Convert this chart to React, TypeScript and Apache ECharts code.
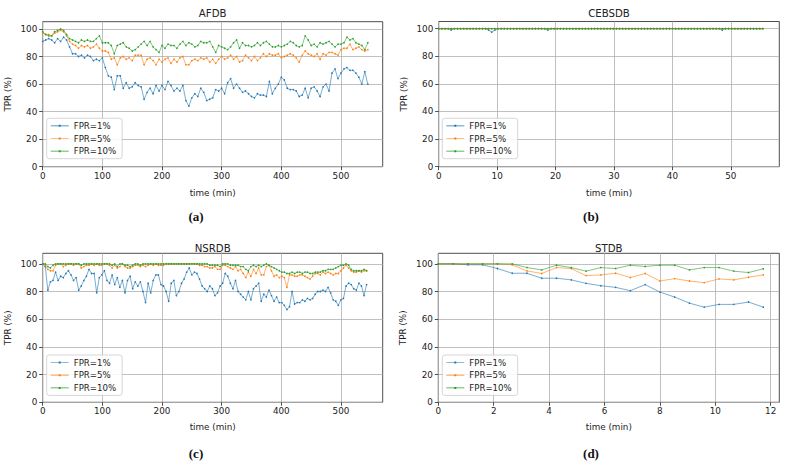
import React, { useEffect, useRef } from 'react';
import * as echarts from 'echarts';

const FONT = 'DejaVu Sans';
const LEGEND_NAMES = ['FPR=1%', 'FPR=5%', 'FPR=10%'];
const COLORS = ['#1f77b4', '#ff7f0e', '#2ca02c'];
const TITLES = ['AFDB', 'CEBSDB', 'NSRDB', 'STDB'];
const CAPTIONS = ['(a)', '(b)', '(c)', '(d)'];
const Y_TICKS = [0, 20, 40, 60, 80, 100];
const X_TICKS_MIN = [0, 100, 200, 300, 400, 500];
const X_TICKS_CEBS = [0, 10, 20, 30, 40, 50];
const X_TICKS_ST = [0, 2, 4, 6, 8, 10, 12];

// sampling step of each record (minutes)
const AFDB_STEP = 5;
const CEBSDB_STEP = 0.5333;
const NSRDB_STEP = 4.3095;
const STDB_STEP = 0.5333;

const AFDB_FPR1 = [
  91, 92, 93, 92, 90, 93, 91, 94, 92, 87,
  82, 82, 80, 81, 79, 81, 80, 77, 78, 77,
  79, 72, 66, 65, 56, 66, 66, 57, 61, 57,
  58, 61, 59, 58, 49, 54, 57, 53, 59, 55,
  59, 56, 62, 59, 55, 57, 55, 59, 48, 44,
  50, 53, 51, 57, 54, 48, 49, 50, 56, 55,
  57, 53, 61, 64, 57, 60, 57, 54, 55, 53,
  51, 50, 53, 52, 52, 51, 62, 53, 57, 60,
  65, 63, 57, 56, 56, 55, 51, 52, 57, 50,
  57, 58, 55, 51, 58, 60, 55, 68, 71, 64,
  68, 71, 72, 70, 70, 68, 65, 60, 69, 60,
];
const AFDB_FPR5 = [
  97, 96, 96, 95, 97, 98, 99, 98, 95, 91,
  89, 88, 86, 88, 87, 88, 86, 87, 89, 86,
  84, 84, 83, 78, 79, 74, 79, 80, 78, 79,
  77, 81, 81, 81, 74, 78, 79, 77, 74, 78,
  76, 78, 79, 75, 78, 76, 79, 80, 74, 74,
  77, 78, 77, 79, 78, 79, 76, 78, 75, 78,
  80, 78, 79, 81, 78, 80, 76, 77, 81, 79,
  77, 80, 77, 79, 82, 80, 82, 81, 81, 82,
  79, 80, 81, 82, 81, 79, 76, 81, 84, 82,
  81, 80, 82, 78, 82, 81, 83, 83, 82, 81,
  85, 86, 86, 89, 85, 86, 87, 85, 84, 85,
];
const AFDB_FPR10 = [
  98, 96, 95, 95, 98, 99, 100, 99, 96, 93,
  92, 91, 90, 92, 91, 92, 91, 91, 93, 95,
  90, 90, 90, 88, 82, 88, 89, 90, 87, 86,
  84, 85, 87, 89, 91, 88, 91, 87, 85, 83,
  88, 86, 89, 88, 88, 86, 89, 91, 88, 90,
  89, 87, 88, 91, 90, 90, 91, 87, 83, 88,
  87, 86, 85, 87, 90, 92, 86, 90, 88, 88,
  87, 88, 90, 88, 90, 91, 89, 87, 87, 88,
  87, 88, 89, 91, 90, 88, 87, 88, 95, 92,
  88, 89, 87, 90, 89, 90, 91, 89, 87, 89,
  89, 90, 94, 92, 93, 90, 89, 88, 85, 90,
];

const CEBSDB_FPR1 = [
  100, 100, 100, 100, 99, 100, 100, 100, 100, 100, 100, 100, 100, 100, 100,
  100, 99, 97.5, 99, 100, 100, 100, 100, 100, 100, 100, 100, 100, 100, 100,
  100, 100, 100, 100, 100, 99, 100, 100, 100, 100, 100, 100, 100, 100, 100,
  100, 100, 100, 100, 100, 100, 100, 100, 100, 100, 100, 100, 100, 100, 100,
  100, 100, 100, 100, 100, 100, 100, 100, 100, 100, 100, 100, 100, 100, 100,
  100, 100, 100, 100, 100, 100, 100, 100, 100, 100, 100, 100, 100, 100, 100,
  100, 99, 100, 100, 100, 100, 100, 100, 100, 100, 100, 100, 100, 100, 100,
];
const CEBSDB_FPR5 = [
  100, 100, 100, 100, 100, 100, 100, 100, 100, 100, 100, 100, 100, 100, 100,
  100, 100, 100, 100, 100, 100, 100, 100, 100, 100, 100, 100, 100, 100, 100,
  100, 100, 100, 100, 100, 100, 100, 100, 100, 100, 100, 100, 100, 100, 100,
  100, 100, 100, 100, 100, 100, 100, 100, 100, 100, 100, 100, 100, 100, 100,
  100, 100, 100, 100, 100, 100, 100, 100, 100, 100, 100, 100, 100, 100, 100,
  100, 100, 100, 100, 100, 100, 100, 100, 100, 100, 100, 100, 100, 100, 100,
  100, 100, 100, 100, 100, 100, 100, 100, 100, 100, 100, 100, 100, 100, 100,
];
const CEBSDB_FPR10 = [
  100, 100, 100, 100, 100, 100, 100, 100, 100, 100, 100, 100, 100, 100, 100,
  100, 100, 100, 100, 100, 100, 100, 100, 100, 100, 100, 100, 100, 100, 100,
  100, 100, 100, 100, 100, 100, 100, 100, 100, 100, 100, 100, 100, 100, 100,
  100, 100, 100, 100, 100, 100, 100, 100, 100, 100, 100, 100, 100, 100, 100,
  100, 100, 100, 100, 100, 100, 100, 100, 100, 100, 100, 100, 100, 100, 100,
  100, 100, 100, 100, 100, 100, 100, 100, 100, 100, 100, 100, 100, 100, 100,
  100, 100, 100, 100, 100, 100, 100, 100, 100, 100, 100, 100, 100, 100, 100,
];

const NSRDB_FPR1 = [
  100, 98, 81, 87, 88, 94, 88, 91, 90, 93,
  95, 92, 88, 90, 81, 84, 88, 91, 96, 93,
  93, 79, 90, 92, 95, 88, 86, 92, 85, 90,
  83, 88, 79, 88, 91, 82, 87, 84, 87, 80,
  72, 86, 79, 88, 92, 92, 85, 84, 80, 73,
  86, 88, 77, 80, 86, 89, 94, 97, 92, 94,
  93, 89, 84, 82, 80, 84, 82, 77, 79, 84,
  86, 93, 91, 86, 82, 88, 80, 78, 76, 74,
  80, 74, 82, 84, 86, 73, 78, 76, 81, 77,
  73, 76, 72, 72, 70, 67, 69, 80, 71, 72,
  72, 74, 73, 75, 74, 75, 78, 80, 80, 81,
  80, 83, 79, 74, 73, 70, 74, 75, 84, 86,
  85, 82, 81, 86, 84, 77, 85,
];
const NSRDB_FPR5 = [
  100, 99, 96, 95, 95, 99, 100, 100, 98, 99,
  100, 100, 99, 100, 100, 97, 98, 99, 99, 100,
  99, 100, 99, 99, 100, 100, 99, 97, 99, 97,
  98, 100, 98, 97, 97, 98, 99, 99, 98, 99,
  98, 99, 100, 99, 100, 99, 99, 99, 100, 100,
  100, 100, 100, 100, 100, 100, 100, 100, 100, 100,
  100, 99, 99, 98, 98, 97, 97, 98, 96, 96,
  99, 99, 98, 97, 96, 98, 95, 96, 93, 90,
  94, 91, 96, 93, 97, 92, 92, 98, 99, 95,
  91, 92, 90, 91, 90, 83, 92, 92, 91, 91,
  92, 92, 91, 90, 89, 91, 93, 93, 92, 94,
  93, 94, 93, 92, 93, 93, 95, 97, 99, 97,
  95, 94, 94, 95, 94, 95, 95,
];
const NSRDB_FPR10 = [
  100, 100, 98, 97, 99, 100, 100, 100, 100, 100,
  100, 100, 100, 100, 100, 99, 100, 100, 100, 100,
  100, 100, 100, 100, 100, 100, 100, 99, 100, 98,
  100, 100, 99, 99, 98, 99, 100, 100, 99, 100,
  100, 100, 100, 100, 100, 100, 100, 100, 100, 100,
  100, 100, 100, 100, 100, 100, 100, 100, 100, 100,
  100, 100, 100, 100, 100, 99, 99, 99, 99, 98,
  100, 100, 100, 99, 99, 99, 99, 98, 98, 96,
  95, 98, 99, 98, 99, 98, 99, 100, 99, 98,
  97, 96, 95, 94, 94, 93, 93, 94, 93, 94,
  94, 93, 94, 94, 93, 93, 94, 94, 94, 95,
  95, 96, 96, 96, 97, 98, 99, 99, 100, 99,
  96, 95, 95, 95, 95, 96, 95,
];

const STDB_FPR1 = [100, 100, 99.3, 99.3, 96.6, 93.2, 93.2, 89.6, 89.6, 88.4, 85.9, 84.2, 83.0, 80.6, 85.0, 79.6, 76.0, 71.6, 68.7, 70.7, 70.7, 72.4, 68.7];
const STDB_FPR5 = [100, 100, 100, 100, 100, 99.3, 94.9, 93.0, 97.3, 96.6, 91.5, 92.0, 93.2, 90.1, 93.0, 87.6, 89.3, 87.6, 86.4, 89.1, 88.4, 90.3, 92.0];
const STDB_FPR10 = [100, 100, 100, 100, 100, 100, 97.3, 95.6, 99.0, 97.3, 94.7, 97.3, 96.6, 99.0, 98.1, 99.0, 99.0, 95.6, 97.3, 97.3, 94.7, 93.7, 96.4];

const LEGEND_ICON = 'path://M0,4.65H18V5.35H0Z M8,4H10V6H8Z';

function toPairs(values: number[], step: number) {
  return values.map((v, i) => [Math.round(i * step * 1000) / 1000, v]);
}

export default function App() {
  const ref = useRef<HTMLDivElement>(null);

  useEffect(() => {
    document.body.style.margin = '0';
    if (!ref.current) return;
    const chart = echarts.init(ref.current, null, { renderer: 'svg' });

    const panels = [
      { grid: { left: 42.7, top: 21.7, width: 340, height: 145 }, xMax: 570, yMax: 105.3, xTicks: X_TICKS_MIN,
        series: [toPairs(AFDB_FPR1, AFDB_STEP), toPairs(AFDB_FPR5, AFDB_STEP), toPairs(AFDB_FPR10, AFDB_STEP)],
        legend: { left: 46.7, top: 118.3 }, titleY: 13.3, nameGap: 22, caption: { x: 196, y: 216 } },
      { grid: { left: 438.7, top: 21.5, width: 340.6, height: 145.2 }, xMax: 58.3, yMax: 105.2, xTicks: X_TICKS_CEBS,
        series: [toPairs(CEBSDB_FPR1, CEBSDB_STEP), toPairs(CEBSDB_FPR5, CEBSDB_STEP), toPairs(CEBSDB_FPR10, CEBSDB_STEP)],
        legend: { left: 442.3, top: 118.3 }, titleY: 13.3, nameGap: 22, caption: { x: 591, y: 216 } },
      { grid: { left: 42.7, top: 253.3, width: 340, height: 149 }, xMax: 570, yMax: 107.6, xTicks: X_TICKS_MIN,
        series: [toPairs(NSRDB_FPR1, NSRDB_STEP), toPairs(NSRDB_FPR5, NSRDB_STEP), toPairs(NSRDB_FPR10, NSRDB_STEP)],
        legend: { left: 46.7, top: 355 }, titleY: 248.3, nameGap: 20.5, caption: { x: 196, y: 453 } },
      { grid: { left: 438.3, top: 253.3, width: 341, height: 149 }, xMax: 12.31, yMax: 107.6, xTicks: X_TICKS_ST,
        series: [toPairs(STDB_FPR1, STDB_STEP), toPairs(STDB_FPR5, STDB_STEP), toPairs(STDB_FPR10, STDB_STEP)],
        legend: { left: 442.3, top: 355 }, titleY: 248.3, nameGap: 20.5, caption: { x: 591, y: 453 } },
    ];

    const labelStyle = { fontFamily: FONT, fontSize: 8.8, color: '#222' };
    const gridLine = { show: true, lineStyle: { color: '#b0b0b0', width: 0.8 } };

    const option: any = {
      animation: false,
      grid: panels.map((p) => ({
        ...p.grid, show: true, borderColor: '#222', borderWidth: 0.8, backgroundColor: 'transparent',
      })),
      xAxis: panels.map((p, i) => ({
        type: 'value', gridIndex: i, min: 0, max: p.xMax,
        name: 'time (min)', nameLocation: 'middle', nameGap: p.nameGap,
        nameTextStyle: { ...labelStyle },
        axisLine: { show: false },
        axisTick: { show: true, length: 3.5, lineStyle: { color: '#222', width: 0.8 }, customValues: p.xTicks },
        axisLabel: { ...labelStyle, margin: 4.5, customValues: p.xTicks },
        splitLine: gridLine,
      })),
      yAxis: panels.map((p, i) => ({
        type: 'value', gridIndex: i, min: 0, max: p.yMax,
        name: 'TPR (%)', nameLocation: 'middle', nameGap: 30.4, nameRotate: 90,
        nameTextStyle: { ...labelStyle },
        axisLine: { show: false },
        axisTick: { show: true, length: 3.5, lineStyle: { color: '#222', width: 0.8 }, customValues: Y_TICKS },
        axisLabel: { ...labelStyle, margin: 5.4, customValues: Y_TICKS },
        splitLine: gridLine,
      })),
      legend: panels.map((p) => ({
        left: p.legend.left, top: p.legend.top, orient: 'vertical',
        data: LEGEND_NAMES.map((n, k) => ({ name: n, itemStyle: { color: COLORS[k] } })),
        icon: LEGEND_ICON, itemWidth: 18, itemHeight: 10, itemGap: 3.7,
        textStyle: { fontFamily: FONT, fontSize: 8.6, color: '#222' },
        backgroundColor: 'rgba(255,255,255,0.85)', borderColor: '#cccccc', borderWidth: 0.8, borderRadius: 2.5,
        padding: [3, 6, 3, 4], selectedMode: false,
      })),
      series: panels.flatMap((p, i) => p.series.map((data, k) => ({
        type: 'line', name: LEGEND_NAMES[k], xAxisIndex: i, yAxisIndex: i, data,
        symbol: 'circle', symbolSize: 1.6, showSymbol: true, showAllSymbol: true,
        lineStyle: { color: COLORS[k], width: 0.6 }, itemStyle: { color: COLORS[k] },
        emphasis: { disabled: true }, z: 2 + k,
      }))),
      graphic: [
        ...panels.map((p, i) => ({
          type: 'text', x: p.grid.left + p.grid.width / 2, y: p.titleY,
          style: { text: TITLES[i], fontFamily: FONT, fontSize: 10.2, fill: '#222', align: 'center', verticalAlign: 'middle' },
        })),
        ...panels.map((p, i) => ({
          type: 'text', x: p.caption.x, y: p.caption.y,
          style: { text: CAPTIONS[i], fontFamily: 'Liberation Serif', fontWeight: 'bold', fontSize: 13, fill: '#111', align: 'center', verticalAlign: 'middle' },
        })),
      ],
    };

    chart.setOption(option);
    return () => chart.dispose();
  }, []);

  return <div ref={ref} style={{ width: 789, height: 464 }} />;
}
